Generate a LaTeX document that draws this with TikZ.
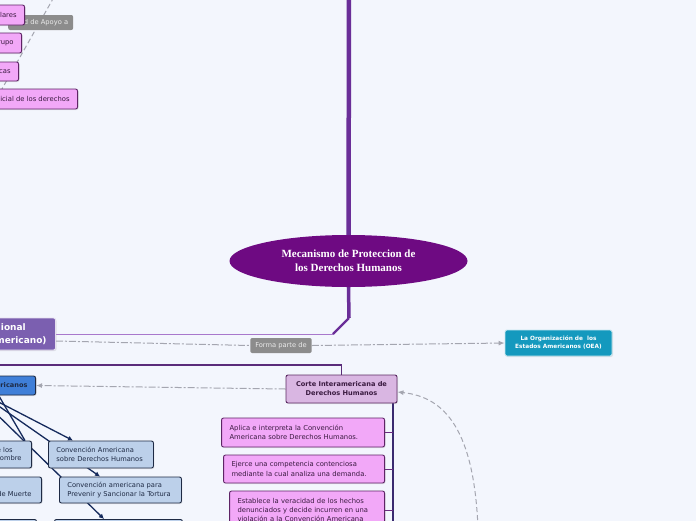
\documentclass[tikz,border=0pt]{standalone}
\usepackage{fontspec}
\setmainfont{DejaVu Sans}
\newfontfamily\titlefont{Liberation Serif}
\usetikzlibrary{arrows.meta,shapes.geometric,shadows}
\definecolor{bgc}{HTML}{F3F6FD}
\definecolor{trunkc}{HTML}{6A2E98}
\definecolor{thinp}{HTML}{A878CC}
\definecolor{ellc}{HTML}{6E0A82}
\definecolor{sisc}{HTML}{7B5FB0}
\definecolor{oeac}{HTML}{1499BE}
\definecolor{lblc}{HTML}{8C8C8C}
\definecolor{gline}{HTML}{A4A6B0}
\definecolor{cortef}{HTML}{D9B6E2}
\definecolor{corted}{HTML}{5A2A62}
\definecolor{pinkf}{HTML}{F2A8F8}
\definecolor{pinkd}{HTML}{5E2466}
\definecolor{pinkt}{HTML}{3A1A40}
\definecolor{bluef}{HTML}{3F7FD8}
\definecolor{lbluef}{HTML}{BCD0EA}
\definecolor{navyd}{HTML}{1E2A44}
\definecolor{navyl}{HTML}{152A5C}
\definecolor{vlinec}{HTML}{3A2A70}
\definecolor{branchc}{HTML}{6A2A80}
\definecolor{linkc}{HTML}{5A2C7A}
\pgfdeclarelayer{back}
\pgfdeclarelayer{lines}
\pgfsetlayers{back,lines,main}
\begin{document}
\begin{tikzpicture}[x=1pt,y=-1pt,
  box/.style={rounded corners=2pt, line width=0.9pt, drop shadow={opacity=0.18,shadow xshift=1pt,shadow yshift=-1pt}},
  pinkbox/.style={box, draw=pinkd, fill=pinkf, text=pinkt, font=\fontsize{6.8}{9.2}\selectfont, inner xsep=8pt, align=left},
  lbluebox/.style={box, draw=navyd, fill=lbluef, text=navyd, font=\fontsize{6.7}{8.5}\selectfont, inner xsep=8pt, align=left},
  lbl/.style={fill=lblc, text=white!92!black, rounded corners=2pt, font=\fontsize{6.7}{8}\selectfont, inner xsep=5pt, minimum height=15pt},
  gdash/.style={draw=gline, line width=1pt, dash pattern=on 7pt off 2pt on 2pt off 2pt},
  garrow/.style={-{Latex[length=6pt,width=5pt]}},
  navyline/.style={draw=navyl, line width=1.3pt, -{Latex[length=5pt,width=5pt]}},
  trunk/.style={draw=trunkc, line width=4.5pt},
  branch/.style={draw=branchc, line width=1pt}
]
\useasboundingbox (0,0) rectangle (696,520);
\clip (0,0) rectangle (696,520);
\begin{pgfonlayer}{back}
\fill[bgc] (-5,-5) rectangle (701,525);
\end{pgfonlayer}

% central node
\node[ellipse, fill=ellc, minimum width=238pt, minimum height=52pt, inner sep=0pt,
      text=white, align=center, font=\titlefont\bfseries\fontsize{11}{14}\selectfont]
  (center) at (348.5,261) {Mecanismo de Proteccion de\\los Derechos Humanos};

% regional system
\node[box, fill=sisc, draw=white!80!sisc, text=white, align=center, anchor=east,
      font=\bfseries\fontsize{9}{12.5}\selectfont, minimum height=32pt, inner xsep=9pt]
  (sis) at (56,334) {Sistema Regional\\(Sistema Interamericano)};

% OEA
\node[box, fill=oeac, draw=white!75!oeac, text=white, align=center,
      font=\bfseries\fontsize{5.8}{8}\selectfont, minimum width=107pt, minimum height=26pt]
  (oea) at (558.5,343) {La Organización de\ \ los\\Estados Americanos (OEA)};

\node[lbl] (fp) at (281,345.5) {Forma parte de};

% Corte
\node[box, fill=cortef, draw=corted, text=pinkt, align=center,
      font=\bfseries\fontsize{6.6}{9}\selectfont, minimum width=111pt, minimum height=28pt]
  (corte) at (341.5,389) {Corte Interamericana de\\Derechos Humanos};

% corte children
\node[pinkbox, anchor=east, text width=147pt, minimum height=29pt] (c1) at (385,432.5)
  {Aplica e interpreta la Convención\\Americana sobre Derechos Humanos.};
\node[pinkbox, anchor=east, text width=145pt, minimum height=28pt] (c2) at (385,469)
  {Ejerce una competencia contenciosa\\mediante la cual analiza una demanda.};
\node[pinkbox, anchor=east, text width=139pt, minimum height=38pt] (c3) at (385,510)
  {Establece la veracidad de los hechos\\denunciados y decide incurren en una\\violación a la Convención Americana};

% blue node
\node[box, fill=bluef, draw=navyd, text=navyd, anchor=east,
      font=\bfseries\fontsize{6.6}{8}\selectfont, minimum height=19pt, inner xsep=8pt]
  (inst) at (36,385.5) {Instrumentos Interamericanos};

% blue children
\node[lbluebox, anchor=east, minimum height=27pt, inner xsep=10pt] (d1) at (32,454.5)
  {Declaración Americana de los\\Derechos y Deberes del Hombre};
\node[lbluebox, anchor=west, text width=89pt, minimum height=27pt] (d2) at (48,454.5)
  {Convención Americana\\sobre Derechos Humanos};
\node[lbluebox, anchor=east, minimum height=26pt, inner xsep=10pt] (d3) at (42,490)
  {Protocolo relativo a la\\Abolición de la Pena de Muerte};
\node[lbluebox, anchor=west, text width=106pt, minimum height=26pt] (d4) at (59,490)
  {Convención americana para\\Prevenir y Sancionar la Tortura};
\node[lbluebox, anchor=north east, minimum width=80pt, minimum height=22pt] (d5) at (37,519) {};
\node[lbluebox, anchor=north west, minimum width=128pt, minimum height=22pt] (d6) at (54,519) {};

% top-left pink nodes
\node[lbl, text width=55pt, minimum height=15pt, align=right, anchor=west] (apoyo) at (8,22.5) {Red de Apoyo a};
\node[pinkbox, anchor=east, minimum height=20pt] (p1) at (25,15) {Particulares};
\node[pinkbox, anchor=east, minimum height=20pt] (p2) at (22,43) {Grupo};
\node[pinkbox, anchor=east, minimum height=19pt] (p3) at (19,71.5) {Personas Jurídicas};
\node[pinkbox, anchor=east, minimum height=20pt] (p4) at (78,99) {Protección judicial de los derechos};

% coordinates
\coordinate (top) at (349,-3);
\coordinate (k1) at (349,318);
\coordinate (k2) at (333,334);
\coordinate (lk) at (-5,365);
\coordinate (cv) at (393,403);
\coordinate (cvend) at (393,530);
\coordinate (cstart) at (478,528);
\coordinate (ds1) at (54,-3);
\coordinate (ds2) at (-2,96);
\coordinate (bA) at (-1,396);
\coordinate (bB) at (-15,395);
\coordinate (bC) at (-23,395);
\coordinate (bD) at (-10,400);

\begin{pgfonlayer}{lines}
  \draw[trunk] (top) -- (center.north);
  \draw[trunkc, line width=3.5pt] (center.south) -- (k1);
  \draw[trunkc, line width=2.2pt] (k1) -- (k2);
  \draw[thinp, line width=1pt] (k2) -- (sis.east |- k2);
  \draw[gdash] ([yshift=-7pt]sis.east) -- (fp.west);
  \draw[gdash, garrow] (fp.east) -- (oea.west);
  \draw[linkc, line width=1.5pt] (lk) -| (corte.north);
  \draw[gdash, garrow] (corte.west) -- (inst.east);
  \draw[gdash, dash pattern=on 5pt off 3pt, garrow] (cstart) .. controls (474,430) and (445,397) .. ([yshift=-3pt]corte.east);
  \draw[vlinec, line width=1.5pt] (cv) -- (cvend);
  \draw[branch] (c1.east) -- (c1.east -| cv);
  \draw[branch] (c2.east) -- (c2.east -| cv);
  \draw[branch] (c3.east) -- (c3.east -| cv);
  \draw[gdash, dash pattern=on 5pt off 3pt] (ds1) -- (ds2);
  \draw[navyline, -] (bA) -- (d1.north -| 25,0);
  \draw[navyline] (bB) -- (d2.north -| 73,0);
  \draw[navyline] (bD) -- (d4.north -| 100,0);
  \draw[navyline] (bC) -- (d6.north -| 104,0);
\end{pgfonlayer}
\end{tikzpicture}
\end{document}
